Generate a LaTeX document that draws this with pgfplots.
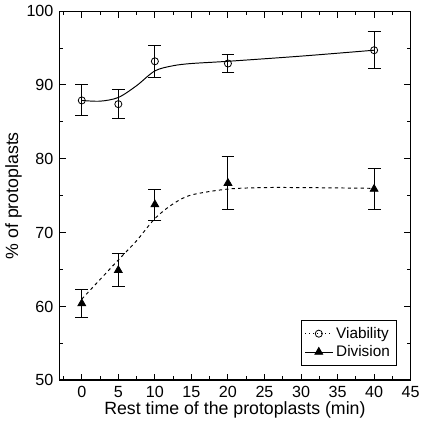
\documentclass[border=0pt]{standalone}
\usepackage{pgfplots}
\pgfplotsset{compat=1.18}
\usepackage{fontspec}
\setmainfont{Liberation Sans}
\begin{document}
\begin{tikzpicture}
\begin{axis}[
  scale only axis,
  width=218pt, height=229pt,
  xmin=-3.1, xmax=45, ymin=50, ymax=100,
  xtick={0,5,...,45}, ytick={50,60,...,100},
  minor xtick={-2.5,2.5,7.5,...,42.5}, minor ytick={55,65,...,95},
  tick align=inside,
  major tick length=4pt, minor tick length=2.5pt,
  tick style={black, line width=0.6pt},
  axis line style={line width=0.5pt},
  /pgf/number format/assume math mode=true,
  ticklabel style={font=\fontsize{10}{12}\selectfont},
  label style={font=\fontsize{11}{13}\selectfont},
  xlabel={Rest time of the protoplasts (min)},
  ylabel={\% of protoplasts},
  xlabel style={yshift=4pt},
  ylabel style={yshift=-4pt},
  legend style={at={(0.96,0.04)}, anchor=south east, font=\fontsize{9.5}{11}\selectfont, draw=black, line width=0.4pt, inner sep=2pt, row sep=-1pt},
  legend cell align=left,
]
\draw[line width=1.2pt] (axis cs:-3.1,100) -- (axis cs:-3.1,50) -- (axis cs:45,50);
% fitted curves
\addplot[black, line width=0.6pt, smooth, forget plot] coordinates {
 (0,87.9) (2.5,87.8) (5,88.3) (7.5,89.9) (10,91.9) (12.5,92.6) (15,92.9) (20,93.2) (30,93.9) (40,94.7)};
\addplot[black, line width=0.6pt, dash pattern=on 2pt off 2pt, smooth, forget plot] coordinates {
 (0,61.0) (5,66.3) (7.5,68.9) (10,71.9) (12.5,73.9) (15,75.1) (20,75.9) (25,76.1) (30,76.1) (40,76.0)};
% data with error bars
\addplot[black, line width=0.5pt, only marks, mark=o, mark size=2.2pt, mark options={fill=white}, forget plot,
  error bars/.cd, y dir=both, y explicit, error bar style={line width=0.6pt},
  error mark options={rotate=90, mark size=4pt, line width=0.6pt}]
 coordinates {
 (0,87.9) +- (0,2.1)
 (5,87.4) +- (0,2.0)
 (10,93.2) +- (0,2.2)
 (20,92.9) +- (0,1.25)
 (40,94.7) +- (0,2.5)};
\addplot[black, line width=0.5pt, only marks, mark=triangle*, mark size=2.8pt, forget plot,
  error bars/.cd, y dir=both, y explicit, error bar style={line width=0.6pt},
  error mark options={rotate=90, mark size=4pt, line width=0.6pt}]
 coordinates {
 (0,60.4) +- (0,1.9)
 (5,64.9) +- (0,2.25)
 (10,73.8) +- (0,2.1)
 (20,76.7) +- (0,3.55)
 (40,75.9) +- (0,2.75)};
\addlegendimage{black, line width=0.5pt, dotted, mark=o, mark size=2.2pt, mark options={solid, fill=white}}
\addlegendentry{Viability}
\addlegendimage{black, line width=0.5pt, mark=triangle*, mark size=2.8pt}
\addlegendentry{Division}
\end{axis}
\end{tikzpicture}
\end{document}
